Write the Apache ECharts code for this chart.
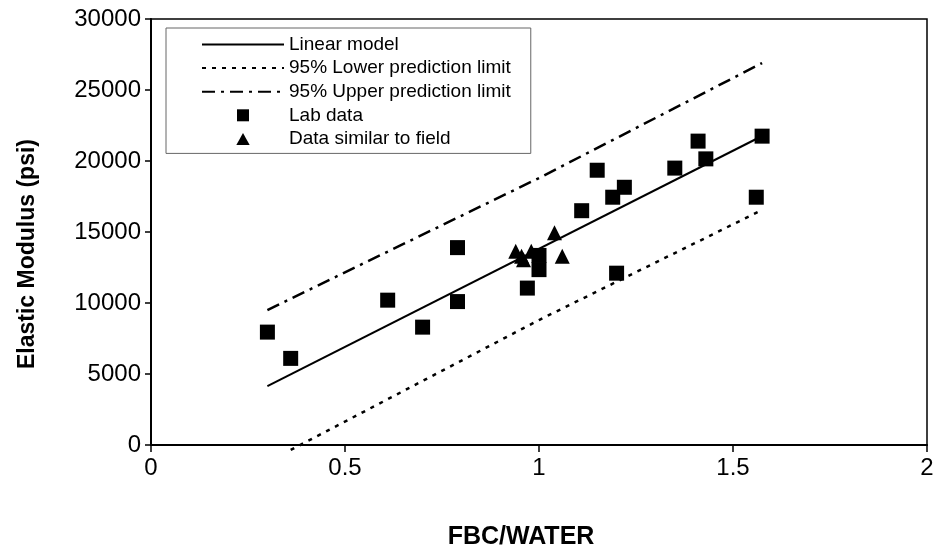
<!DOCTYPE html>
<html>
<head>
<meta charset="utf-8">
<script src="https://cdn.jsdelivr.net/npm/echarts@6/dist/echarts.min.js"></script>
<style>html,body{margin:0;padding:0;background:#fff;}#c{width:938px;height:552px;}</style>
</head>
<body>
<div id="c"></div>
<script>
// Lab data (squares)
const labX = [0.30, 0.36, 0.61, 0.70, 0.79, 0.79, 0.97, 1.00, 1.00, 1.11, 1.15, 1.19, 1.20, 1.22, 1.35, 1.41, 1.43, 1.56, 1.575];
const labY = [7950, 6100, 10200, 8300, 13900, 10100, 11050, 13350, 12350, 16500, 19350, 17450, 12100, 18150, 19500, 21400, 20150, 17450, 21750];
// Data similar to field (triangles)
const fieldX = [0.94, 0.98, 0.96, 0.955, 1.04, 1.06];
const fieldY = [13650, 13650, 13050, 13300, 14950, 13300];
// Linear model and prediction limits
const linX = [0.30, 1.575];
const linY = [4150, 21760];
const lowerX = [0.36, 1.0, 1.575];
const lowerY = [-350, 8800, 16550];
const upperX = [0.30, 1.0, 1.575];
const upperY = [9500, 18800, 26900];
const xTicks = [0, 0.5, 1, 1.5, 2];
const yTicks = [0, 5000, 10000, 15000, 20000, 25000, 30000];
const seriesNames = ['Linear model', '95% Lower prediction limit', '95% Upper prediction limit', 'Lab data', 'Data similar to field'];

const zip = (a, b) => a.map((v, i) => [v, b[i]]);
const FONT = '"Liberation Sans", Arial, sans-serif';

const chart = echarts.init(document.getElementById('c'), null, {renderer: 'canvas'});
chart.setOption({
  animation: false,
  backgroundColor: '#fff',
  grid: {left: 151, right: 11, top: 19, bottom: 107, show: true, borderColor: '#000', borderWidth: 1.5,
         backgroundColor: 'transparent', containLabel: false, outerBoundsMode: 'none'},
  legend: {
    orient: 'vertical', left: 166, top: 28,
    padding: [7, 20, 5, 35],
    itemWidth: 82, itemHeight: 12, itemGap: 4.6,
    borderColor: '#666', borderWidth: 1, backgroundColor: '#fff',
    textStyle: {fontFamily: FONT, fontSize: 19, color: '#000'},
    data: [
      {name: seriesNames[0], itemStyle: {opacity: 0}},
      {name: seriesNames[1], itemStyle: {opacity: 0}},
      {name: seriesNames[2], itemStyle: {opacity: 0}},
      {name: seriesNames[3], icon: 'path://M0,0L10,0L10,10L0,10Z'},
      {name: seriesNames[4], icon: 'path://M5,0L10,9L0,9Z'}
    ]
  },
  xAxis: {
    type: 'value', min: xTicks[0], max: xTicks[xTicks.length - 1], interval: 0.5,
    name: 'FBC/WATER', nameLocation: 'middle', nameGap: 80,
    nameTextStyle: {fontFamily: FONT, fontSize: 25, fontWeight: 'bold', color: '#000', padding: [0, 36, 0, 0]},
    axisLine: {lineStyle: {color: '#000', width: 2}},
    axisTick: {show: true, inside: false, length: 7, lineStyle: {color: '#000', width: 1.5}},
    axisLabel: {fontFamily: FONT, fontSize: 24, color: '#000', margin: 11, formatter: v => String(v)},
    splitLine: {show: false}
  },
  yAxis: {
    type: 'value', min: yTicks[0], max: yTicks[yTicks.length - 1], interval: 5000,
    name: 'Elastic Modulus (psi)', nameLocation: 'middle', nameGap: 112,
    nameTextStyle: {fontFamily: FONT, fontSize: 23, fontWeight: 'bold', color: '#000', padding: [0, 44, 0, 0]},
    axisLine: {lineStyle: {color: '#000', width: 2}},
    axisTick: {show: true, inside: false, length: 6, lineStyle: {color: '#000', width: 1.5}},
    axisLabel: {fontFamily: FONT, fontSize: 24, color: '#000', margin: 10, formatter: v => String(v)},
    splitLine: {show: false}
  },
  series: [
    {name: seriesNames[0], type: 'line', data: zip(linX, linY), symbol: 'none',
     lineStyle: {color: '#000', width: 2}, itemStyle: {color: '#000'}},
    {name: seriesNames[1], type: 'line', data: zip(lowerX, lowerY), symbol: 'none', clip: false,
     lineStyle: {color: '#000', width: 2.5, type: [4, 6]}, itemStyle: {color: '#000'}},
    {name: seriesNames[2], type: 'line', data: zip(upperX, upperY), symbol: 'none',
     lineStyle: {color: '#000', width: 2.5, type: [13, 6, 3, 6]}, itemStyle: {color: '#000'}},
    {name: seriesNames[3], type: 'scatter', data: zip(labX, labY), symbol: 'rect', symbolSize: 15,
     itemStyle: {color: '#000', opacity: 1}},
    {name: seriesNames[4], type: 'scatter', data: zip(fieldX, fieldY), symbol: 'triangle', symbolSize: 15,
     itemStyle: {color: '#000', opacity: 1}}
  ]
});
</script>
</body>
</html>
